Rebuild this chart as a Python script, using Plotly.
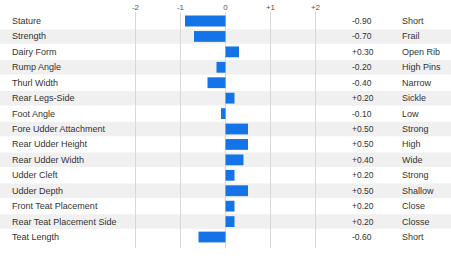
import plotly.graph_objects as go

traits = ["Stature", "Strength", "Dairy Form", "Rump Angle", "Thurl Width",
          "Rear Legs-Side", "Foot Angle", "Fore Udder Attachment", "Rear Udder Height",
          "Rear Udder Width", "Udder Cleft", "Udder Depth", "Front Teat Placement",
          "Rear Teat Placement Side", "Teat Length"]
values = [-0.90, -0.70, 0.30, -0.20, -0.40, 0.20, -0.10, 0.50, 0.50, 0.40, 0.20, 0.50, 0.20, 0.20, -0.60]
descriptors = ["Short", "Frail", "Open Rib", "High Pins", "Narrow", "Sickle", "Low", "Strong",
               "High", "Wide", "Strong", "Shallow", "Close", "Closse", "Short"]
tick_vals = [-2, -1, 0, 1, 2]
tick_text = ["-2", "-1", "0", "+1", "+2"]

W, H = 451, 269
FONT = "Liberation Sans"
idx = list(range(len(traits)))

fig = go.Figure()
fig.add_trace(go.Bar(
    x=values, y=idx, orientation="h", width=0.7,
    marker=dict(color="#1473e6", line=dict(width=0)),
    hoverinfo="skip",
))

shapes = []
for i in idx:
    if i % 2 == 1:
        shapes.append(dict(type="rect", xref="paper", yref="y", x0=0, x1=1,
                           y0=i - 0.47, y1=i + 0.47, fillcolor="#f0f0f0",
                           line=dict(width=0), layer="below"))

annotations = []
for i, (t, v, d) in enumerate(zip(traits, values, descriptors)):
    annotations.append(dict(x=10 / W, xref="paper", y=i, yref="y", text=t,
                            showarrow=False, xanchor="left",
                            font=dict(family=FONT, size=9, color="#333333")))
    annotations.append(dict(x=350 / W, xref="paper", y=i, yref="y", text=f"{v:+.2f}",
                            showarrow=False, xanchor="left",
                            font=dict(family=FONT, size=8.5, color="#333333")))
    annotations.append(dict(x=400 / W, xref="paper", y=i, yref="y", text=d,
                            showarrow=False, xanchor="left",
                            font=dict(family=FONT, size=9, color="#333333")))

unit = 15.43
top_m, bot_m = 12, 21
plot_h = H - top_m - bot_m
y_top = -(21 - top_m) / unit
y_bot = y_top + plot_h / unit

fig.update_layout(
    width=W, height=H,
    margin=dict(l=0, r=0, t=top_m, b=bot_m),
    paper_bgcolor="white", plot_bgcolor="white",
    showlegend=False,
    shapes=shapes, annotations=annotations,
    xaxis=dict(range=[-225.5 / 45, (W - 225.5) / 45], side="top",
               tickvals=tick_vals, ticktext=tick_text, showgrid=True,
               gridcolor="#d8d8d8", gridwidth=1, zeroline=True, zerolinecolor="#d8d8d8",
               zerolinewidth=1, showline=False, ticks="", fixedrange=True,
               tickfont=dict(family=FONT, size=8, color="#555555"), ticklabelstandoff=-1),
    yaxis=dict(range=[y_bot, y_top], showticklabels=False, showgrid=False,
               zeroline=False, showline=False, ticks=""),
)

fig.write_html("out.html")
